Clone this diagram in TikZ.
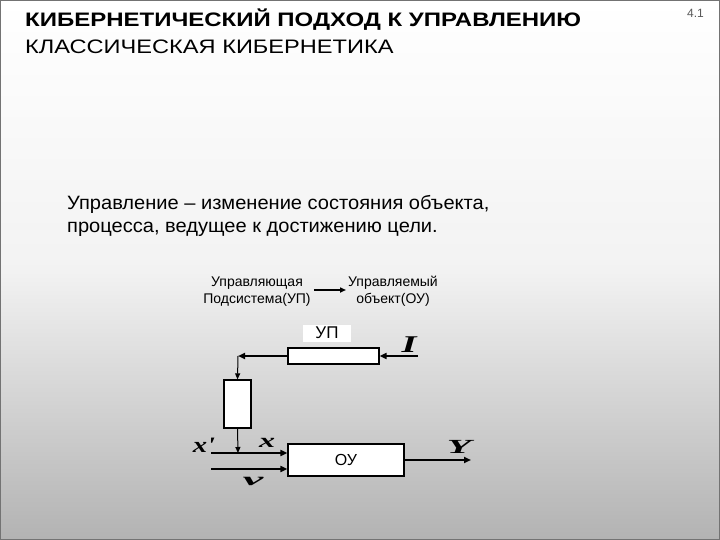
\documentclass[tikz,border=0pt]{standalone}
\usepackage{fontspec}
\setmainfont{Liberation Sans}
\newfontfamily\tmsfont{Liberation Serif}
\usetikzlibrary{arrows.meta}
\tikzset{
  blk/.style={draw=black, line width=1.2pt, fill=white, inner sep=0pt},
  conn/.style={line width=1.8pt, -{Triangle[length=7pt,width=6pt]}},
  thin conn/.style={line width=1pt, -{Triangle[length=6pt,width=5pt]}},
  sym/.style={inner sep=0pt, font=\tmsfont\bfseries\itshape},
}
\newcommand{\fsz}[1]{\fontsize{#1}{#1}\selectfont}
\begin{document}
\begin{tikzpicture}[x=1pt,y=-1pt]
\useasboundingbox (0,0) rectangle (720,540);
\shade[top color=white, bottom color=black!30, middle color=black!5] (0,0) rectangle (720,540);
\draw[black!55, line width=1pt] (0.5,0.5) rectangle (719.5,539.5);
% titles
\node[anchor=base west, inner sep=0pt] (title) at (25,26.5) {\scalebox{1.23}[1]{\fsz{19.5}\bfseries КИБЕРНЕТИЧЕСКИЙ ПОДХОД К УПРАВЛЕНИЮ}};
\node[anchor=base west, inner sep=0pt] (subtitle) at (25,54) {\scalebox{1.21}[1]{\fsz{19.5}КЛАССИЧЕСКАЯ КИБЕРНЕТИКА}};
\node[anchor=base east, inner sep=0pt, text=black!65] (num) at (704,18) {\fsz{12}4.1};
% definition
\node[anchor=base west, inner sep=0pt] (def1) at (67,210) {\scalebox{1.04}[1]{\fsz{19.3}Управление – изменение состояния объекта,}};
\node[anchor=base west, inner sep=0pt] (def2) at (67,233) {\scalebox{1.04}[1]{\fsz{19.3}процесса, ведущее к достижению цели.}};
% small labels
\node[align=center, inner sep=0pt] (lab1) at (257,292) {\fsz{14}Управляющая\\[3pt]\fsz{14}Подсистема(УП)};
\node[align=center, inner sep=0pt] (lab2) at (393,291) {\fsz{14}Управляемый\\[3pt]\fsz{14}объект(ОУ)};
\coordinate (a1) at ([xshift=3pt,yshift=2pt]lab1.east);
\coordinate (a2) at ([xshift=-2pt]lab2.west |- a1);
\draw[line width=1.5pt, -{Triangle[length=6pt,width=5pt]}] (a1) -- (a2);
% diagram
\node[fill=white, minimum width=48pt, minimum height=17pt, inner sep=0pt] (uplab) at (327,333) {\fsz{17}УП};
\node[blk, minimum width=91pt, minimum height=16pt] (upbox) at (333.5,356) {};
\node[blk, minimum width=27pt, minimum height=48pt] (midbox) at (237.5,404) {};
\node[blk, minimum width=116pt, minimum height=32pt] (oybox) at (346,460) {\fsz{16}ОУ};
\coordinate (Iin) at (418,356);
\coordinate (c1) at (238,356);
\coordinate (c2) at (238,453);
\coordinate (in1) at (211,453);
\coordinate (in2) at (211,469);
\coordinate (out) at (471,460);
\draw[conn] (Iin) -- (upbox.east);
\draw[conn] (upbox.west) -- (c1);
\draw[thin conn] (c1) -- (midbox.north);
\draw[thin conn] (midbox.south) -- (c2);
\draw[conn] (in1) -- (oybox.west |- in1);
\draw[conn] (in2) -- (oybox.west |- in2);
\draw[conn] (oybox.east) -- (out);
% symbols
\node[sym] (symI) at (409,345) {\scalebox{1.6}[1]{\fsz{24}I}};
\node[sym] (symx1) at (204,445) {\scalebox{1.3}[1]{\fsz{22}x'}};
\node[sym] (symx) at (267,443) {\scalebox{1.6}[1]{\fsz{20}x}};
\node[sym] (symY) at (459,447) {\scalebox{2}[1]{\fsz{20}Y}};
\node[sym] (symv) at (253,481) {\scalebox{2.6}[1]{\fsz{18}v}};
\end{tikzpicture}
\end{document}
